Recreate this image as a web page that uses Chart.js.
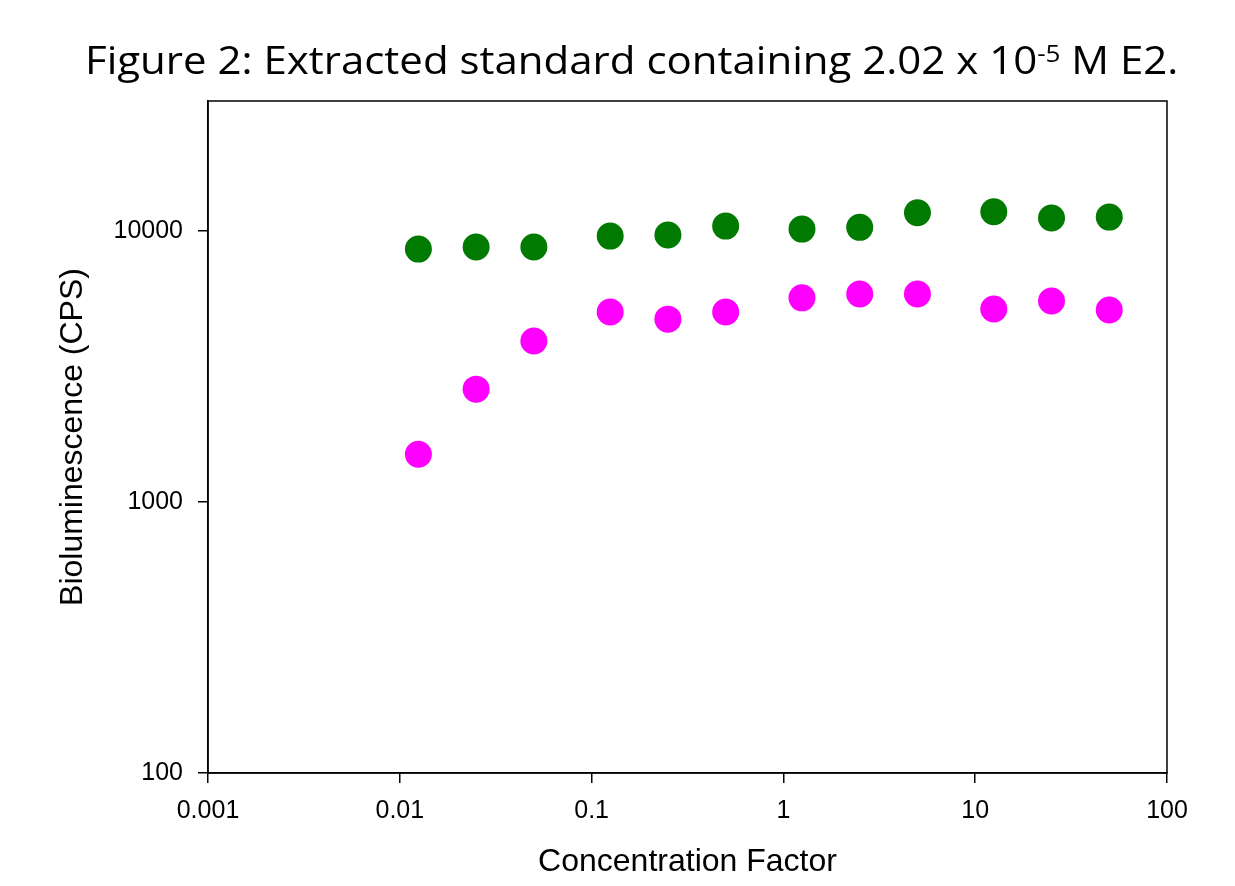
<!DOCTYPE html>
<html>
<head>
<meta charset="utf-8">
<script src="https://cdn.jsdelivr.net/npm/chart.js@4.4.0/dist/chart.umd.min.js"></script>
<style>
  body { margin: 0; background: #fff; }
  #wrap { position: relative; width: 1235px; height: 886px; }
  #title {
    position: absolute; left: 85px; top: 39px;
    font-family: "Open Sans", sans-serif; font-size: 39px; line-height: 1;
    white-space: nowrap; transform-origin: 0 0; color: #000;
  }
  #title sup { font-size: 0.62em; vertical-align: 0.5em; line-height: 0; }
</style>
</head>
<body>
<div id="wrap">
  <div id="title">Figure 2: Extracted standard containing 2.02 x 10<sup>-5</sup> M E2.</div>
  <canvas id="myChart" width="1235" height="886"></canvas>
</div>
<script>
// concentration factors (x) and bioluminescence in CPS (y)
const concFactor = [0.0125, 0.025, 0.05, 0.125, 0.25, 0.5, 1.25, 2.5, 5, 12.5, 25, 50];
const greenCPS = [8580, 8730, 8730, 9580, 9670, 10430, 10170, 10320, 11680, 11780, 11170, 11260];
const magentaCPS = [1500, 2610, 3930, 5030, 4730, 5030, 5670, 5860, 5860, 5160, 5520, 5110];
const xTicks = [0.001, 0.01, 0.1, 1, 10, 100];
const yTicks = [100, 1000, 10000];

// squeeze title to the width of the original
const titleEl = document.getElementById('title');
titleEl.style.transform = `scaleX(${1093 / titleEl.offsetWidth})`;

function toPoints(ys) {
    return concFactor.map((x, i) => ({ x: x, y: ys[i] }));
}

const boxPlugin = {
    id: 'box',
    afterDraw(chart) {
        const { ctx, chartArea: a } = chart;
        ctx.save();
        ctx.strokeStyle = '#000';
        ctx.lineWidth = 1.5;
        ctx.strokeRect(a.left, a.top, a.right - a.left, a.bottom - a.top);
        ctx.restore();
    }
};

const tickFont = { family: 'Liberation Sans, Arial', size: 25 };
const titleFont = { family: 'Liberation Sans, Arial', size: 32 };

const data = {
    datasets: [{
        label: 'green',
        data: toPoints(greenCPS),
        backgroundColor: '#007a00',
        pointRadius: 13.5,
        pointBorderWidth: 0,
        showLine: false,
        clip: false
    }, {
        label: 'magenta',
        data: toPoints(magentaCPS),
        backgroundColor: '#ff00ff',
        pointRadius: 13.5,
        pointBorderWidth: 0,
        showLine: false,
        clip: false
    }]
};

const config = {
    type: 'scatter',
    data: data,
    plugins: [boxPlugin],
    options: {
        responsive: false,
        animation: false,
        events: [],
        layout: { padding: { top: 101, right: 68, left: 0, bottom: 0 } },
        plugins: { legend: { display: false }, tooltip: { enabled: false } },
        scales: {
            x: {
                type: 'logarithmic',
                min: 0.001,
                max: 100,
                afterBuildTicks: (s) => { s.ticks = xTicks.map(v => ({ value: v })); },
                afterFit: (s) => { s.height = 113; },
                ticks: {
                    color: '#000', font: tickFont, padding: 13, maxRotation: 0,
                    callback: (v) => String(v)
                },
                grid: { display: true, drawOnChartArea: false, drawTicks: true, tickLength: 10, color: '#000', lineWidth: 1.5 },
                border: { display: true, color: '#000', width: 1.5 },
                title: { display: true, text: 'Concentration Factor', color: '#000', font: titleFont, padding: { top: 0, bottom: 5 } }
            },
            y: {
                type: 'logarithmic',
                min: 100,
                max: 30200,
                afterBuildTicks: (s) => { s.ticks = yTicks.map(v => ({ value: v })); },
                afterFit: (s) => { s.width = 208; },
                ticks: {
                    color: '#000', font: tickFont, padding: 15,
                    callback: (v) => String(v)
                },
                grid: { display: true, drawOnChartArea: false, drawTicks: true, tickLength: 10, color: '#000', lineWidth: 1.5 },
                border: { display: true, color: '#000', width: 1.5 },
                title: { display: true, text: 'Bioluminescence (CPS)', color: '#000', font: titleFont, padding: { top: 54, bottom: 0 } }
            }
        }
    }
};

const myChart = new Chart(document.getElementById('myChart'), config);
</script>
</body>
</html>
